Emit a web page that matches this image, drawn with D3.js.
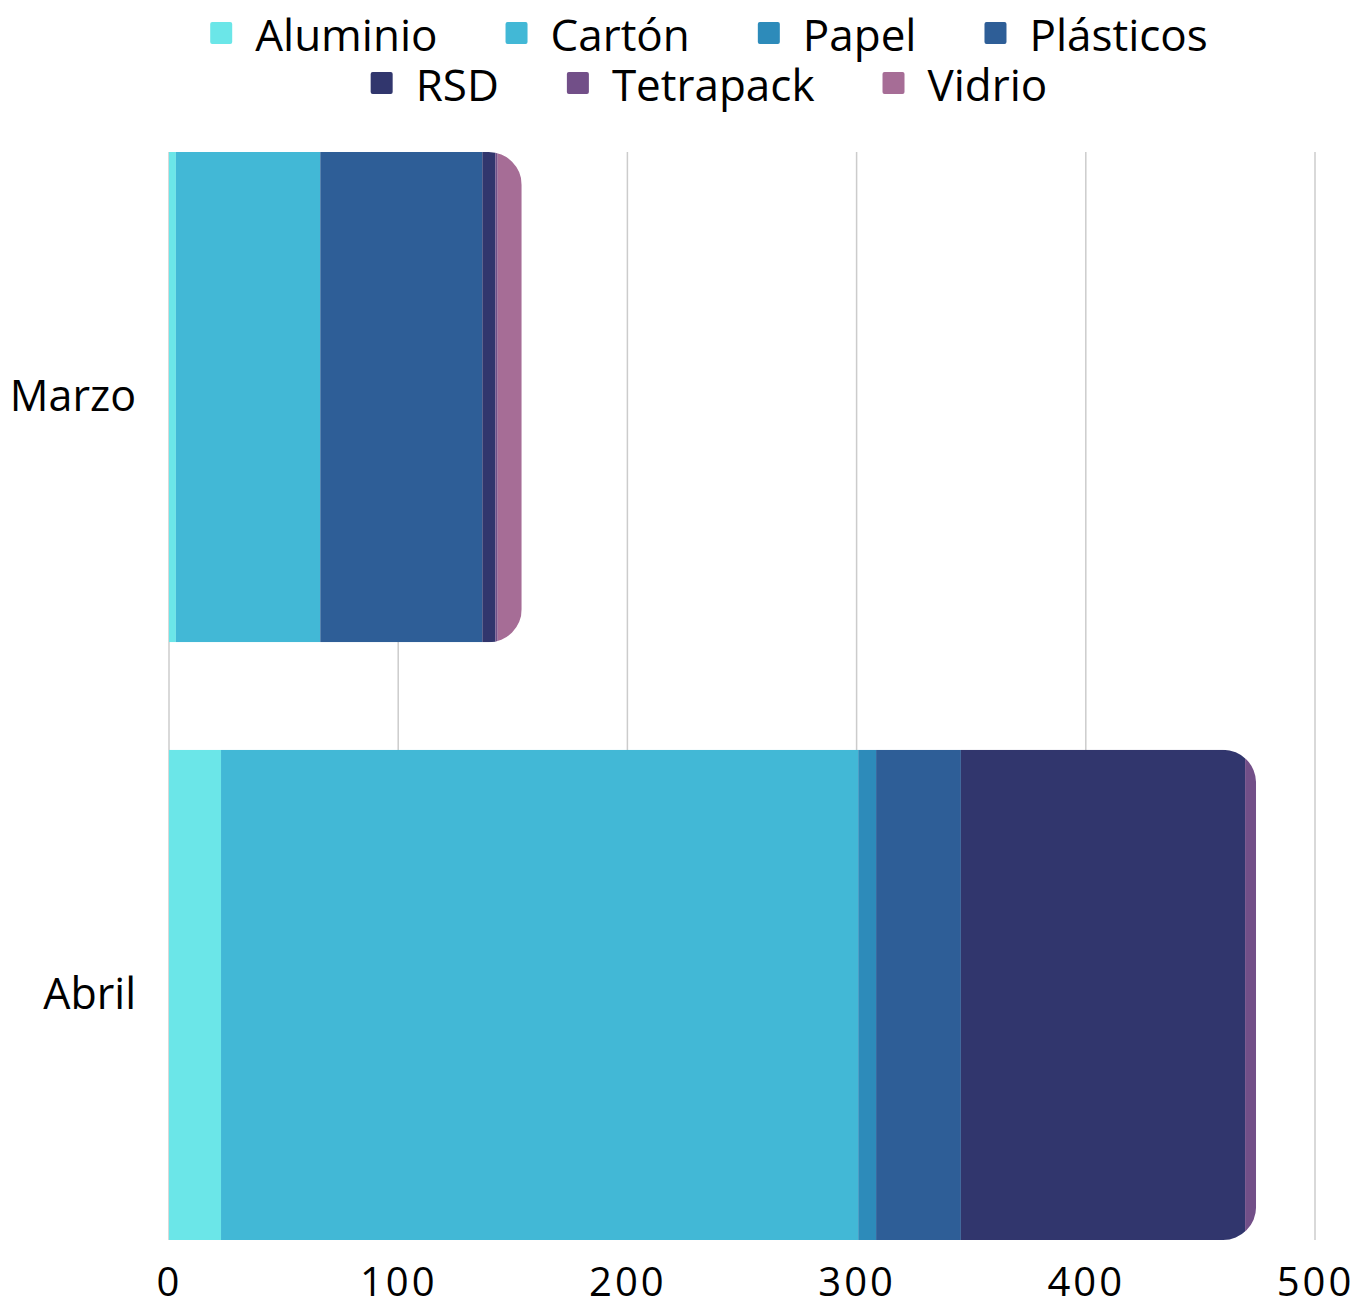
<!DOCTYPE html>
<html>
<head>
<meta charset="utf-8">
<script src="https://cdn.jsdelivr.net/npm/d3@7"></script>
<style>
  html, body { margin: 0; padding: 0; background: #fff; }
  svg { display: block; }
  text { font-family: "Open Sans", sans-serif; fill: #000; }
</style>
</head>
<body>
<svg id="chart" width="1360" height="1308"></svg>
<script>
// ---- data ----
const categories = ["Marzo", "Abril"];
const seriesNames = ["Aluminio", "Cartón", "Papel", "Plásticos", "RSD", "Tetrapack", "Vidrio"];
const seriesColors = ["#6be6e8", "#42b8d6", "#2d8bba", "#2e5e97", "#31366d", "#724f88", "#a66d96"];
const aluminio  = [3, 22.7];
const carton    = [63, 278];
const papel     = [0, 7.8];
const plasticos = [70.7, 37];
const rsd       = [5.7, 124];
const tetrapack = [1, 4.8];
const vidrio    = [10.5, 0];
const xTicks = [0, 100, 200, 300, 400, 500];

const seriesValues = [aluminio, carton, papel, plasticos, rsd, tetrapack, vidrio];
const rows = categories.map((c, i) => {
  const r = { category: c };
  seriesNames.forEach((s, j) => r[s] = seriesValues[j][i]);
  return r;
});

const svg = d3.select("#chart");
const x = d3.scaleLinear().domain([0, 500]).range([169, 1315]);
const y = d3.scaleBand().domain(categories).range([152, 1240]).paddingInner(0.18).paddingOuter(0);
const color = d3.scaleOrdinal().domain(seriesNames).range(seriesColors);

// gridlines
svg.append("g").selectAll("line").data(xTicks).join("line")
  .attr("x1", d => x(d)).attr("x2", d => x(d))
  .attr("y1", 152).attr("y2", 1240)
  .attr("stroke", "#cccccc").attr("stroke-width", 1.5);

const stacked = d3.stack().keys(seriesNames)(rows);
const totals = rows.map(r => d3.sum(seriesNames, s => r[s]));

// clip paths with rounded right ends
const defs = svg.append("defs");
const R = 33;
categories.forEach((c, i) => {
  const x0 = x(0), x1 = x(totals[i]), y0 = y(c), h = y.bandwidth(), y1 = y0 + h;
  const p = d3.path();
  p.moveTo(x0 - 2, y0);
  p.lineTo(x1 - R, y0);
  p.arcTo(x1, y0, x1, y0 + R, R);
  p.lineTo(x1, y1 - R);
  p.arcTo(x1, y1, x1 - R, y1, R);
  p.lineTo(x0 - 2, y1);
  p.closePath();
  defs.append("clipPath").attr("id", "clip" + i).append("path").attr("d", p.toString());
});

const barsG = svg.append("g");
categories.forEach((c, i) => {
  const g = barsG.append("g").attr("clip-path", `url(#clip${i})`);
  g.selectAll("rect").data(stacked.map(s => ({ key: s.key, v: s[i] })).filter(d => d.v[1] > d.v[0]))
    .join("rect")
    .attr("x", d => x(d.v[0]))
    .attr("width", d => x(d.v[1]) - x(d.v[0]))
    .attr("y", y(c))
    .attr("height", y.bandwidth())
    .attr("fill", d => color(d.key));
});

// x axis labels
const xAxis = d3.axisBottom(x).tickValues(xTicks).tickSize(0).tickPadding(0).tickFormat(d3.format("d"));
const xg = svg.append("g").attr("transform", "translate(0,1296)").call(xAxis);
xg.select(".domain").remove();
xg.selectAll("text").attr("font-size", 40).attr("font-family", "'Open Sans', sans-serif")
  .attr("fill", "#000").attr("dy", 0).attr("letter-spacing", 3);

// y axis labels
const yAxis = d3.axisLeft(y).tickSize(0).tickPadding(0);
const yg = svg.append("g").attr("transform", "translate(136,0)").call(yAxis);
yg.select(".domain").remove();
yg.selectAll("text").attr("font-size", 43).attr("font-family", "'Open Sans', sans-serif").attr("fill", "#000");

// legend
const legendRows = [seriesNames.slice(0, 4), seriesNames.slice(4)];
const legendY = [35, 85];
const sq = 22, gapText = 23, gapItem = 68, cx = 709;
legendRows.forEach((names, ri) => {
  const g = svg.append("g");
  const items = names.map(n => {
    const t = g.append("text").text(n).attr("font-size", 44).attr("dominant-baseline", "central").attr("y", legendY[ri] - 1);
    const w = t.node().getComputedTextLength();
    return { n, t, w };
  });
  const total = d3.sum(items, d => sq + gapText + d.w) + gapItem * (items.length - 1);
  let cur = cx - total / 2;
  items.forEach(it => {
    g.append("rect").attr("x", cur).attr("y", legendY[ri] - sq / 2 - 2).attr("width", sq).attr("height", sq)
      .attr("rx", 2).attr("fill", color(it.n));
    it.t.attr("x", cur + sq + gapText);
    cur += sq + gapText + it.w + gapItem;
  });
});
</script>
</body>
</html>
